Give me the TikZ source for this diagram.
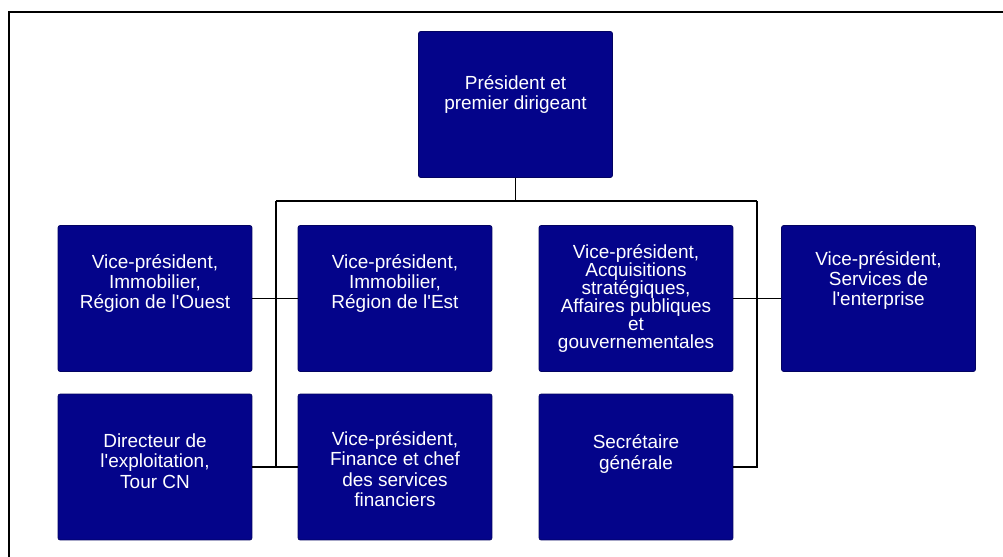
\documentclass[tikz,border=0pt]{standalone}
\usepackage{fontspec}
\setmainfont{Liberation Sans}
\usetikzlibrary{positioning, calc}
\definecolor{deepnavy}{RGB}{4,4,138}

\tikzset{
    unit/.style={draw=deepnavy!70!black, fill=deepnavy, rounded corners=1.2pt,
        minimum width=3.88cm, minimum height=2.92cm, inner sep=0pt},
    txt/.style={text=white, align=center, font=\fontsize{10.8}{11.6}\selectfont},
    tight/.style={text=white, align=center, font=\fontsize{10.8}{10.3}\selectfont},
    wire/.style={draw=black, line width=1.1pt}
}

\begin{document}
\begin{tikzpicture}[x=0.02cm, y=-0.02cm]
    \useasboundingbox (0,0) rectangle (1003,557);
    \fill[white] (0,0) rectangle (1003,557);

    % frame
    \draw[line width=1.7pt] (9,557) -- (9,12) -- (1003,12);

    \node[unit, label={[txt, yshift=0.2cm]center:Président et\\premier dirigeant}] (pdg) at (515.5,104.5) {};

    \node[unit, label={[txt, yshift=0.3cm]center:Vice-président,\\Immobilier,\\Région de l\textquotesingle Ouest}] (vpo) at (155,298.5) {};
    \node[unit, label={[txt, yshift=0.3cm]center:Vice-président,\\Immobilier,\\Région de l\textquotesingle Est}] (vpe) at (395,298.5) {};
    \node[unit, label={[tight, yshift=0cm]center:Vice-président,\\Acquisitions\\stratégiques,\\Affaires publiques\\et\\gouvernementales}] (vpa) at (636,298.5) {};
    \node[unit, label={[txt, yshift=0.36cm]center:Vice-président,\\Services de\\l\textquotesingle enterprise}] (vps) at (878.5,298.5) {};

    \node[unit, label={[txt, yshift=0.12cm]center:Directeur de\\l\textquotesingle exploitation,\\Tour CN}] (dir) at (155,467) {};
    \node[unit, label={[txt, yshift=-0.04cm]center:Vice-président,\\Finance et chef\\des services\\financiers}] (vpf) at (395,467) {};
    \node[unit, label={[txt, yshift=0.26cm]center:Secrétaire\\générale}] (sec) at (636,467) {};

    \coordinate (jl) at (276,201);
    \coordinate (jr) at (757,201);

    \draw[wire] (pdg.south) -- (pdg.south |- jl);
    \draw[wire] (jl) -- (jr);
    \draw[wire] (jl) -- (jl |- dir.east);
    \draw[wire] (vpo.east) -- (vpe.west);
    \draw[wire] (dir.east) -- (vpf.west);
    \draw[wire] (vpa.east) -- (vps.west);
    \draw[wire] (jr) |- (sec.east);
\end{tikzpicture}
\end{document}
